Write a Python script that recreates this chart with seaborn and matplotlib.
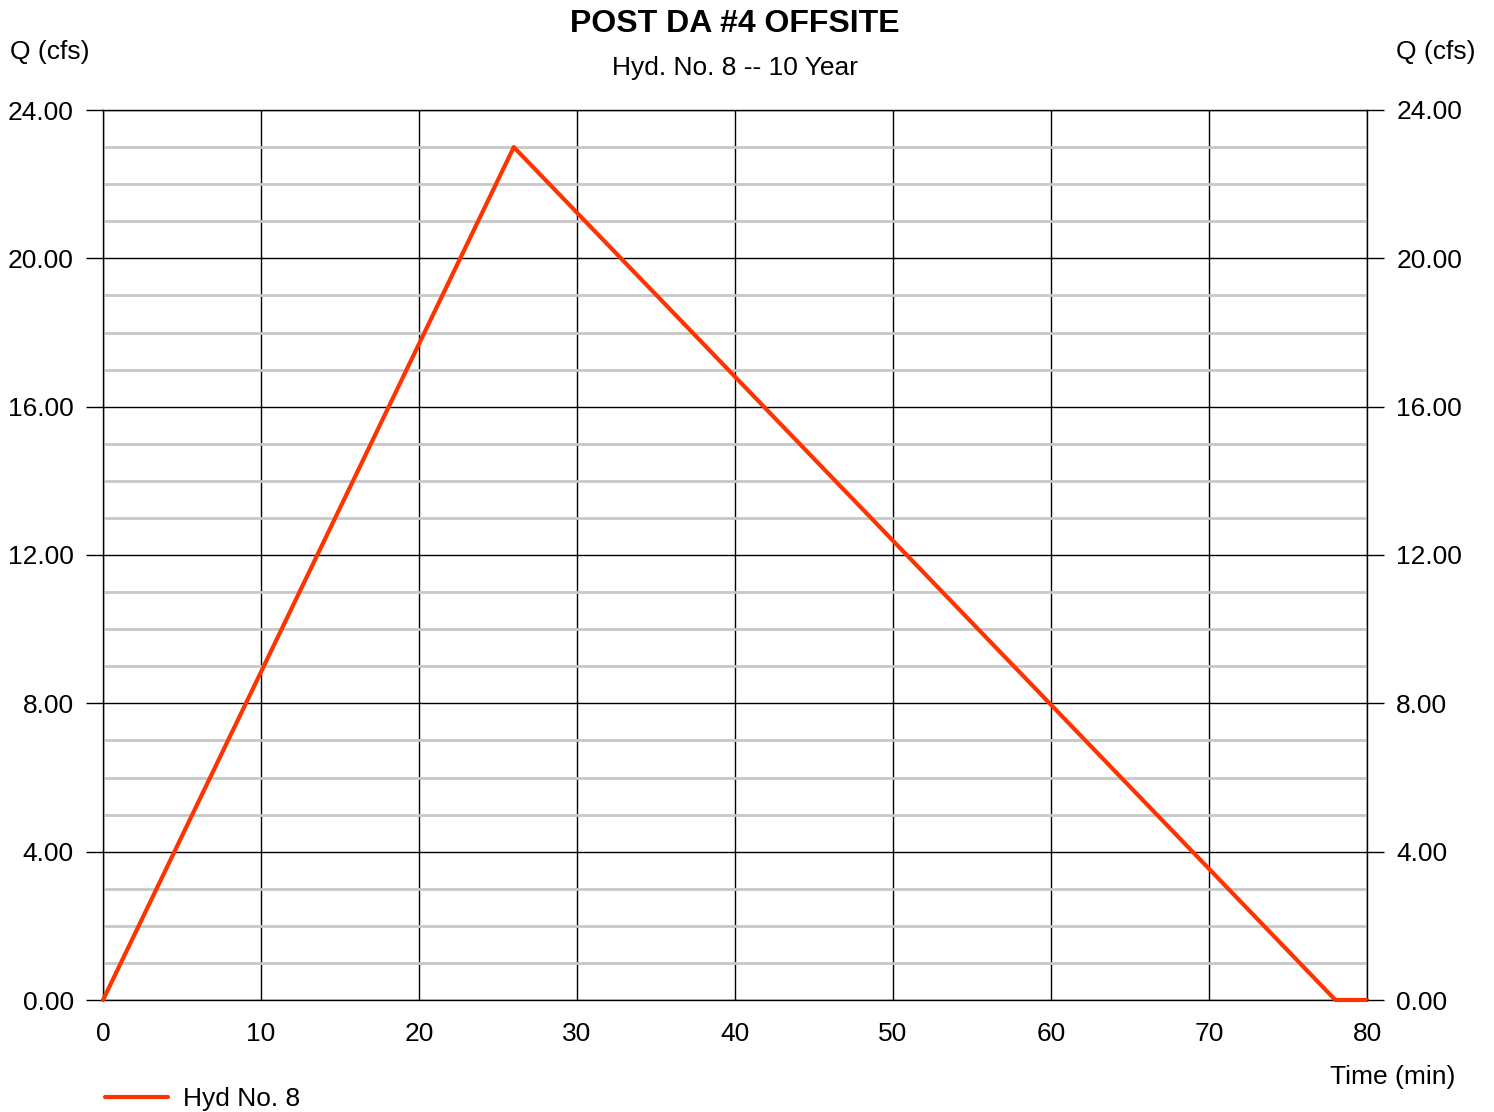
import matplotlib
matplotlib.use("Agg")
import matplotlib.pyplot as plt
from matplotlib.ticker import MultipleLocator, FormatStrFormatter
from matplotlib.lines import Line2D
import seaborn as sns
import pandas as pd

# data
time_min = [0, 26, 78, 80]
flow_cfs = [0.0, 23.0, 0.0, 0.0]
series_name = "Hyd No. 8"
title = "POST DA #4 OFFSITE"
subtitle = "Hyd. No. 8 -- 10 Year"

sns.set_theme(style="white")
plt.rcParams['font.family'] = ['Liberation Sans', 'DejaVu Sans']
plt.rcParams['text.color'] = 'black'
plt.rcParams['xtick.color'] = 'black'
plt.rcParams['ytick.color'] = 'black'
plt.rcParams['axes.labelcolor'] = 'black'

df = pd.DataFrame({"Time (min)": time_min, "Q (cfs)": flow_cfs})

fig = plt.figure(figsize=(14.94, 11.12), dpi=100)
ax = fig.add_axes([103/1494, 1 - 1000/1112, (1367-103)/1494, (1000-110)/1112])

ax.set_xlim(0, 80)
ax.set_ylim(0, 24)
ax.xaxis.set_major_locator(MultipleLocator(10))
ax.yaxis.set_major_locator(MultipleLocator(4))
ax.yaxis.set_minor_locator(MultipleLocator(1))
ax.yaxis.set_major_formatter(FormatStrFormatter('%.2f'))

ax.grid(which='minor', axis='y', color='#c8c8c8', lw=2.0, zorder=0)
ax.grid(which='major', axis='both', color='black', lw=1.0, zorder=1)
ax.set_axisbelow(True)

sns.lineplot(data=df, x="Time (min)", y="Q (cfs)", ax=ax, color='#ff3300',
             lw=3.0, zorder=5, clip_on=False, legend=False)

ax.set_xlabel("")
ax.set_ylabel("")
for s in ax.spines.values():
    s.set_color('black')
    s.set_linewidth(1.0)

ax.tick_params(axis='y', which='major', length=12, width=1, color='black',
               labelcolor='black', labelsize=19, pad=9, left=True)
ax.tick_params(axis='y', which='minor', length=0)
ax.tick_params(axis='x', which='major', length=0, labelsize=19,
               labelcolor='black', pad=15.5)

ax2 = ax.twinx()
ax2.set_ylim(0, 24)
ax2.yaxis.set_major_locator(MultipleLocator(4))
ax2.yaxis.set_major_formatter(FormatStrFormatter('%.2f'))
ax2.tick_params(axis='y', which='major', length=12, width=1, color='black',
                labelcolor='black', labelsize=19, pad=9, right=True)
ax2.grid(False)
for s in ax2.spines.values():
    s.set_visible(False)

fig.text(735/1494, 1 - 24/1112, title, ha='center', va='center',
         fontsize=23, fontweight='bold', color='black')
fig.text(735/1494, 1 - 68/1112, subtitle, ha='center', va='center',
         fontsize=19, color='black')
fig.text(10/1494, 1 - 52/1112, "Q (cfs)", ha='left', va='center',
         fontsize=19, color='black')
fig.text(1476/1494, 1 - 52/1112, "Q (cfs)", ha='right', va='center',
         fontsize=19, color='black')
fig.text(1455/1494, 1 - 1077/1112, "Time (min)", ha='right', va='center',
         fontsize=19, color='black')

handle = Line2D([0], [0], color='#ff3300', lw=3.0)
fig.legend([handle], [series_name], loc='center left',
           bbox_to_anchor=(81/1494, 1 - 1099/1112), frameon=False,
           fontsize=19, handlelength=2.4, handletextpad=0.57,
           labelcolor='black')

fig.savefig("out.png", dpi=100)
